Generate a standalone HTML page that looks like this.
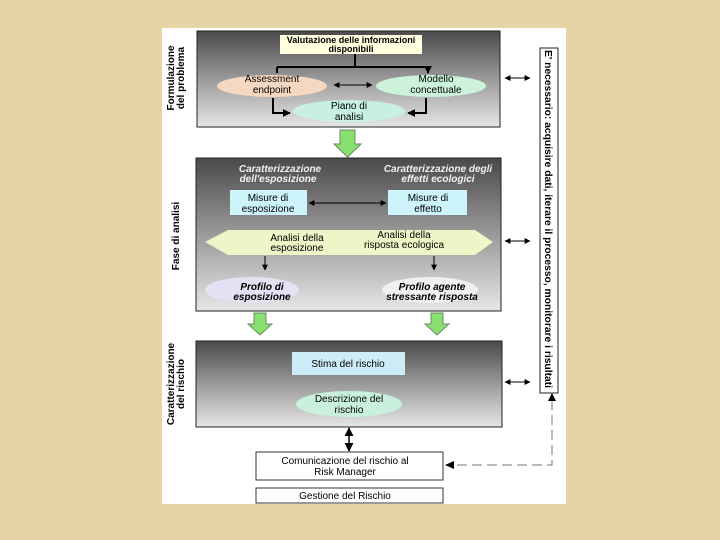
<!DOCTYPE html>
<html><head><meta charset="utf-8"><style>
html,body{margin:0;padding:0;background:#e6d4a6;}
svg{display:block;font-family:"Liberation Sans",sans-serif;}
</style></head><body>
<svg width="720" height="540" viewBox="0 0 720 540" xmlns="http://www.w3.org/2000/svg">
<defs>
<linearGradient id="g" x1="0" y1="0" x2="0" y2="1">
<stop offset="0" stop-color="#4a4a4a"/><stop offset="0.5" stop-color="#9a9a9a"/><stop offset="1" stop-color="#e6e6e6"/>
</linearGradient>
<marker id="a" viewBox="0 0 10 10" refX="9" refY="5" markerWidth="6" markerHeight="6" orient="auto-start-reverse"><path d="M0,0L10,5L0,10z" fill="#000"/></marker>
<marker id="b" viewBox="0 0 10 10" refX="9" refY="5" markerUnits="userSpaceOnUse" markerWidth="8" markerHeight="8" orient="auto-start-reverse"><path d="M0,0L10,5L0,10z" fill="#000"/></marker>
</defs>
<rect x="0" y="0" width="720" height="540" fill="#e6d4a6"/>
<rect x="162" y="28" width="404" height="476" fill="#fff"/>
<!-- Box1 -->
<rect x="197" y="31" width="303" height="96" fill="url(#g)" stroke="#222"/>
<rect x="280" y="35" width="142" height="19" fill="#ffffe0"/>
<text x="351" y="43" font-size="9" font-weight="bold" text-anchor="middle">Valutazione delle informazioni</text>
<text x="351" y="52" font-size="9" font-weight="bold" text-anchor="middle">disponibili</text>
<path d="M355,54V67M277,67H428" stroke="#000" stroke-width="2" fill="none"/>
<path d="M277,67V73M428,67V73" stroke="#000" stroke-width="2" marker-end="url(#b)"/>
<ellipse cx="272" cy="86" rx="55" ry="11" fill="#f5d8c2"/>
<text x="272" y="82" font-size="10" text-anchor="middle">Assessment</text>
<text x="272" y="93" font-size="10" text-anchor="middle">endpoint</text>
<ellipse cx="431" cy="86" rx="55" ry="11" fill="#ccf2da"/>
<text x="436" y="82" font-size="10" text-anchor="middle">Modello</text>
<text x="436" y="93" font-size="10" text-anchor="middle">concettuale</text>
<line x1="334" y1="85" x2="372" y2="85" stroke="#000" marker-start="url(#a)" marker-end="url(#a)"/>
<ellipse cx="349" cy="111" rx="56" ry="11" fill="#c8f0e0"/>
<text x="349" y="109" font-size="10" text-anchor="middle">Piano di</text>
<text x="349" y="120" font-size="10" text-anchor="middle">analisi</text>
<path d="M273,98V113H290" stroke="#000" stroke-width="2" fill="none" marker-end="url(#b)"/>
<path d="M426,98V113H408" stroke="#000" stroke-width="2" fill="none" marker-end="url(#b)"/>
<path d="M340,130H355V144H361L347.5,157L334,144H340Z" fill="#88e070" stroke="#6a8a60"/>
<!-- Box2 -->
<rect x="196" y="158" width="305" height="153" fill="url(#g)" stroke="#222"/>
<g fill="#f2f2f2" font-size="10" font-weight="bold" font-style="italic" text-anchor="middle">
<text x="280" y="172">Caratterizzazione</text><text x="278" y="182">dell'esposizione</text>
<text x="438" y="172">Caratterizzazione degli</text><text x="438" y="182">effetti ecologici</text></g>
<rect x="230" y="190" width="77" height="25" fill="#ccf4fa"/>
<text x="268" y="201" font-size="10" text-anchor="middle">Misure di</text>
<text x="268" y="212" font-size="10" text-anchor="middle">esposizione</text>
<rect x="388" y="190" width="79" height="25" fill="#ccf4fa"/>
<text x="428" y="201" font-size="10" text-anchor="middle">Misure di</text>
<text x="428" y="212" font-size="10" text-anchor="middle">effetto</text>
<line x1="309" y1="203" x2="386" y2="203" stroke="#000" marker-start="url(#a)" marker-end="url(#a)"/>
<polygon points="205,242 228,230 475,230 493,242 475,255 228,255" fill="#eef5c6"/>
<text x="297" y="241" font-size="10" text-anchor="middle">Analisi della</text>
<text x="297" y="251" font-size="10" text-anchor="middle">esposizione</text>
<text x="404" y="238" font-size="10" text-anchor="middle">Analisi della</text>
<text x="404" y="248" font-size="10" text-anchor="middle">risposta ecologica</text>
<line x1="265" y1="256" x2="265" y2="270" stroke="#000" marker-end="url(#a)"/>
<line x1="434" y1="256" x2="434" y2="270" stroke="#000" marker-end="url(#a)"/>
<ellipse cx="252" cy="290" rx="47" ry="13" fill="#e2e2f4"/>
<text x="262" y="290" font-size="10" font-weight="bold" font-style="italic" text-anchor="middle">Profilo di</text>
<text x="262" y="300" font-size="10" font-weight="bold" font-style="italic" text-anchor="middle">esposizione</text>
<ellipse cx="430" cy="290" rx="48" ry="13" fill="#f0f0f0"/>
<text x="432" y="290" font-size="10" font-weight="bold" font-style="italic" text-anchor="middle">Profilo agente</text>
<text x="432" y="300" font-size="10" font-weight="bold" font-style="italic" text-anchor="middle">stressante risposta</text>
<path d="M254,313H266V324H272L260,335L248,324H254Z" fill="#88e070" stroke="#6a8a60"/>
<path d="M431,313H443V324H449L437,335L425,324H431Z" fill="#88e070" stroke="#6a8a60"/>
<!-- Box3 -->
<rect x="196" y="341" width="306" height="86" fill="url(#g)" stroke="#222"/>
<rect x="292" y="352" width="113" height="23" fill="#ccecf8"/>
<text x="348" y="367" font-size="10" text-anchor="middle">Stima del rischio</text>
<ellipse cx="349" cy="404" rx="53" ry="13" fill="#c8f0dc"/>
<text x="349" y="402" font-size="10" text-anchor="middle">Descrizione del</text>
<text x="349" y="413" font-size="10" text-anchor="middle">rischio</text>
<line x1="349" y1="428" x2="349" y2="451" stroke="#000" stroke-width="1.5" marker-start="url(#a)" marker-end="url(#a)"/>
<rect x="256" y="452" width="187" height="28" fill="#fff" stroke="#333"/>
<text x="345" y="464" font-size="10" text-anchor="middle">Comunicazione del rischio al</text>
<text x="345" y="475" font-size="10" text-anchor="middle">Risk Manager</text>
<rect x="256" y="488" width="187" height="15" fill="#fff" stroke="#333"/>
<text x="345" y="499" font-size="10" text-anchor="middle">Gestione del Rischio</text>
<path d="M552,400V465H452" stroke="#777" stroke-dasharray="10,5" fill="none"/>
<path d="M445,465L454,461V469Z" fill="#000"/>
<path d="M552,393L548,401H556Z" fill="#000"/>
<!-- right -->
<rect x="540" y="48" width="18" height="345" fill="#fff" stroke="#222"/>
<text transform="translate(545,50) rotate(90)" font-size="10" font-weight="bold" textLength="338" lengthAdjust="spacingAndGlyphs">E' necessario: acquisire dati, iterare il processo, monitorare i risultati</text>
<g stroke="#000" marker-start="url(#a)" marker-end="url(#a)">
<line x1="505" y1="78" x2="530" y2="78"/><line x1="505" y1="241" x2="530" y2="241"/><line x1="505" y1="382" x2="530" y2="382"/></g>
<!-- left labels -->
<g font-size="10" font-weight="bold" text-anchor="middle">
<text transform="translate(174,78) rotate(-90)">Formulazione</text>
<text transform="translate(184,78) rotate(-90)">del problema</text>
<text transform="translate(179,236) rotate(-90)">Fase di analisi</text>
<text transform="translate(174,384) rotate(-90)">Caratterizzazione</text>
<text transform="translate(184,384) rotate(-90)">del rischio</text>
</g>
</svg>
</body></html>
